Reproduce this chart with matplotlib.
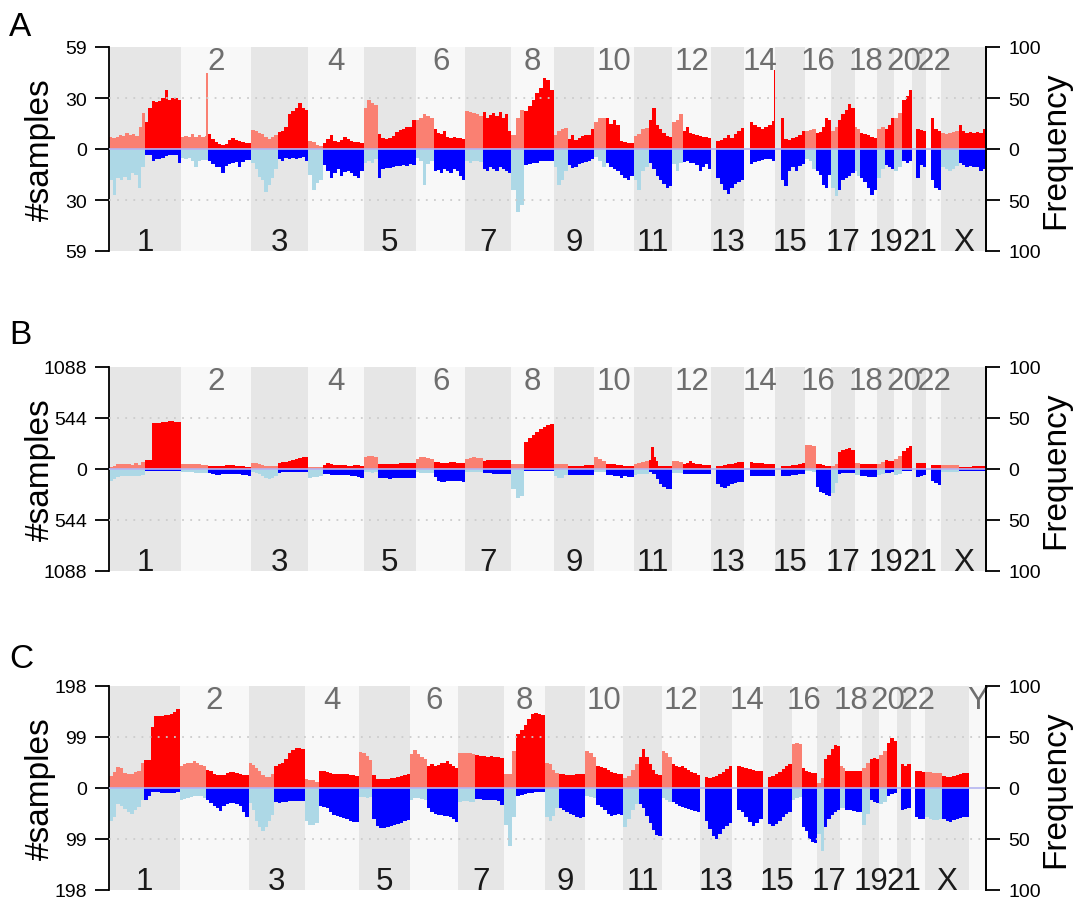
import numpy as np
import matplotlib
matplotlib.use("Agg")
import matplotlib.pyplot as plt

plt.rcParams['font.family'] = ['Liberation Sans', 'DejaVu Sans']

# ---------------- genome layout (Mb) ----------------
chrom_names = ['1', '2', '3', '4', '5', '6', '7', '8', '9', '10', '11', '12',
               '13', '14', '15', '16', '17', '18', '19', '20', '21', '22', 'X', 'Y']
chrom_len = [249.25, 243.20, 198.02, 191.15, 180.92, 171.12, 159.14, 146.36,
             141.21, 135.53, 135.01, 133.85, 115.17, 107.35, 102.53, 90.35,
             81.20, 78.08, 59.13, 63.03, 48.13, 51.30, 155.27, 59.37]
centromere = [125.0, 93.3, 91.0, 50.4, 48.4, 61.0, 59.9, 45.6, 49.0, 40.2,
              53.7, 35.8, 17.9, 17.6, 19.0, 36.6, 24.0, 17.2, 26.5, 27.5,
              13.2, 14.7, 60.6, 12.5]

# ---------------- panel A (59 samples), frequency % ----------------
A_gain_p = [[12, 11, 12, 14, 13, 16, 14, 15, 13, 22, 35], [12, 13, 12, 15, 12, 14, 12, 13],
            [19, 18, 16, 15, 12, 10, 12, 14], [8, 7, 4, 3], [40, 48, 45, 43], [28, 30, 34, 32, 30],
            [37, 36, 35, 34, 32], [14, 30, 38], [14, 18, 20, 21], [26, 30, 30], [13, 15, 20, 21],
            [26, 28, 34], [], [], [], [18, 19, 20], [18, 22], [22, 20], [20, 22], [30, 35], [], [],
            [16, 15, 16, 17, 18]]
A_gain_q = [[26, 40, 47, 46, 47, 50, 58, 48, 50, 50, 48], [15, 10, 7, 5, 4, 5, 9, 11, 9, 8, 7, 6, 6],
            [17, 18, 22, 34, 37, 40, 45, 40, 38], [6, 10, 14, 8, 7, 9, 12, 10, 8, 7, 7, 6],
            [15, 11, 10, 11, 13, 17, 19, 20, 22, 22, 28], [20, 16, 15, 18, 12, 11, 12, 11, 11, 10],
            [36, 30, 33, 35, 32, 36, 30, 34, 18], [37, 42, 48, 55, 60, 70, 68, 58],
            [10, 14, 9, 11, 13, 14, 14, 20], [30, 25, 28, 24, 8, 7, 6, 6], [28, 40, 24, 20, 16, 13, 12],
            [18, 22, 16, 15, 14, 13, 12, 12, 11], [8, 9, 11, 14, 11, 15, 18, 21],
            [26, 24, 22, 20, 22, 24, 27], [30, 10, 9, 11, 12, 14, 18], [16, 17, 22, 30, 28],
            [28, 34, 38, 44, 40], [16, 15, 14, 12, 11], [20, 24, 30], [48, 52, 58], [20, 19, 18],
            [30, 20, 18], [24, 18, 16, 17, 16, 17, 16, 20]]
A_loss_p = [[30, 45, 28, 30, 27, 30, 24, 25, 38, 18], [9, 10, 9, 12, 18, 12, 11, 11],
            [14, 20, 27, 30, 42, 35, 28, 20], [25, 40, 33, 30], [14, 12, 14, 10], [9, 12, 35, 15, 12],
            [12, 14, 12, 12, 13], [40, 62, 55], [18, 35, 30, 22], [8, 12, 18], [30, 40, 22, 18],
            [15, 22, 14], [], [], [], [10, 12, 20], [38, 46], [22, 26], [28, 20], [22, 18], [], [],
            [18, 20, 22, 20, 17]]
A_loss_q = [[6, 6, 12, 10, 10, 9, 7, 6, 6, 6, 14], [12, 15, 18, 18, 24, 17, 15, 14, 13, 18, 13, 11, 11],
            [10, 12, 9, 10, 9, 10, 9, 8, 12], [16, 22, 28, 24, 20, 26, 23, 22, 24, 26, 28, 22],
            [28, 20, 19, 19, 18, 17, 17, 16, 17, 15, 16], [22, 21, 24, 20, 22, 24, 20, 22, 26, 30],
            [20, 22, 18, 20, 22, 18, 20, 22, 24], [16, 15, 14, 14, 12, 12, 12, 12],
            [16, 19, 18, 15, 14, 13, 12, 10], [14, 18, 20, 22, 25, 28, 30, 26],
            [14, 20, 26, 30, 34, 38, 36], [13, 12, 14, 14, 16, 22, 18, 15, 20],
            [28, 34, 40, 44, 38, 34, 32, 30], [15, 13, 12, 11, 10, 10, 12], [30, 36, 22, 18, 22, 17, 15],
            [22, 25, 35, 38, 25], [40, 30, 28, 26, 24], [28, 32, 38, 45, 40], [16, 18, 20], [12, 14, 12],
            [28, 16, 18], [30, 38, 40], [14, 16, 18, 17, 18, 18, 22, 20]]
# narrow single-locus peaks: (chromosome, position Mb, frequency %, arm)
A_spikes = [('2', 90.0, 75, 'p'), ('14', 104.5, 77, 'q')]

# ---------------- panel B (1088 samples) ----------------
B_gain_p = [[2, 3, 5, 5, 5, 5, 4, 6, 4, 7], [5, 5, 5, 5, 5, 5, 4, 4], [6, 6, 5, 4, 3, 2.5, 2.5, 3],
            [2, 2, 2, 2], [12, 13, 12.5, 12], [10, 12, 12, 11, 10], [10, 11, 12, 11, 11], [5, 5, 5],
            [5, 5, 5, 5], [12, 10, 8], [5, 6, 7, 8], [8, 8, 7], [], [], [], [24, 24, 23], [3, 5],
            [6, 6], [5, 7], [10, 13], [], [], [4, 4, 4, 4, 4]]
B_gain_q = [[9, 9, 45, 45, 45, 46, 46, 47, 47, 46, 46], [3, 2.5, 2.5, 3, 3, 3.5, 3.5, 3.5, 3, 3, 2.5, 2, 2],
            [6, 6.5, 7, 8, 9, 10, 11, 12, 12], [4, 6, 5, 4, 3.5, 3.5, 3.5, 3, 3, 3.5, 3.5, 3],
            [5, 5, 5, 5, 5, 5, 5.5, 5.5, 5.5, 5.5, 6], [7, 7, 6, 6, 6, 7, 6.5, 6, 6, 6],
            [8, 8.5, 8.5, 8.5, 8.5, 8.5, 8.5, 9, 8.5], [26, 30, 33, 36, 39, 41, 43, 44],
            [2.5, 2.5, 3, 3, 3, 3.5, 3.5, 4], [5, 5, 4.5, 4, 3.5, 3, 3, 3],
            [9, 22, 12, 8, 3, 3, 3, 3, 3, 3], [5, 6, 8, 6, 5, 5, 4, 4, 4], [3, 3, 4, 4.5, 5, 6, 7, 7],
            [7, 6, 6, 5.5, 5, 5, 5], [2.5, 3, 3, 3.5, 4, 5, 6], [5, 4.5, 4, 3, 2.5], [17, 19, 20, 21, 19],
            [5, 5, 5, 5, 5], [9, 8, 8], [18, 21, 23], [6, 6, 6], [4, 4, 4], [2, 2, 2, 2, 2.5, 2.5, 3, 3]]
B_loss_p = [[12, 10, 8, 7, 7, 7, 7, 7, 7, 6], [3, 3, 3, 3, 4, 4, 4, 4], [3, 4, 5, 7, 9, 10, 9, 7],
            [9, 8, 8, 7], [3, 3, 4, 3], [3, 4, 4, 4, 4], [3, 3, 3, 3, 3], [20, 28, 26], [7, 9, 9, 6],
            [3, 3, 3], [6, 5, 5, 5], [4, 4, 4], [], [], [], [2, 2, 3], [24, 14], [6, 6], [6, 5], [6, 5],
            [], [], [3, 3, 3, 3, 3]]
B_loss_q = [[1.5, 1.5, 1.5, 1.5, 1.5, 1.5, 1.5, 1.5, 1.5, 2, 2], [4, 5, 6, 6, 5, 5, 5, 5, 5, 5, 6, 6, 7],
            [4, 3, 3, 3, 3, 3, 3, 3, 3], [5, 5, 5.5, 5.5, 5.5, 6, 6, 6, 6.5, 7, 7.5, 9],
            [9, 9, 9, 9.5, 9, 9, 9, 9, 9, 9, 9], [8, 12, 13, 13, 12, 12, 12, 12, 12, 13],
            [3.5, 4, 4, 4.5, 4.5, 4.5, 4.5, 4.5, 4.5], [2, 2, 2, 2, 2, 2, 2, 2],
            [5.5, 5.5, 5.5, 5.5, 5.5, 5.5, 5.5, 5.5], [6, 6, 7, 7, 9, 7, 8, 8], [3, 5, 10, 15, 18, 20, 20],
            [4.5, 4.5, 4.5, 4.5, 4.5, 4.5, 4.5, 4.5, 4.5], [15, 18, 19, 17, 15, 14, 13, 13],
            [7, 7, 7, 7, 7, 7, 7], [7, 7, 6.5, 6, 5.5, 5, 4.5], [18, 23, 24, 25, 26], [5, 4, 4, 4, 4],
            [7, 7, 7.5, 7.5, 8], [4, 4, 3], [2, 2, 2], [8, 7, 6], [12, 14, 16], [2, 2, 2, 2, 2, 2, 2, 2]]
B_spikes = []

# ---------------- panel C (198 samples) ----------------
C_gain_p = [[12, 16, 21, 20, 15, 14, 14, 16, 17, 25], [22, 24, 25, 25, 26, 25, 23, 22],
            [25, 23, 20, 17, 13, 11, 11, 14], [9, 8, 8, 6], [35, 34, 31, 27], [33, 37, 33, 30, 28],
            [34, 34, 34, 34, 33], [14, 14, 36], [25, 24, 18, 15], [36, 34, 30], [10, 12, 18, 24],
            [36, 34, 30], [], [], [], [43, 44, 43], [5, 10], [22, 20], [20, 25], [32, 36], [], [],
            [16, 16, 15, 15, 15], []]
C_gain_q = [[27, 27, 60, 71, 71, 71, 72, 72, 73, 75, 77], [18, 17, 14, 13, 13, 13, 15, 16, 16, 15, 14, 13, 13],
            [22, 24, 25, 28, 34, 37, 39, 39, 38], [17, 17, 16, 15, 14, 14, 14, 14, 14, 13, 13, 12],
            [13, 9, 9, 9, 9, 10, 10, 11, 12, 13, 14], [22, 24, 22, 23, 25, 25, 26, 24, 22, 20],
            [32, 31, 31, 30, 31, 30, 30, 29], [53, 57, 62, 68, 73, 74, 73, 72],
            [14, 14, 13, 13, 13, 14, 14, 14], [22, 21, 20, 18, 16, 15, 14, 14], [30, 38, 30, 24, 18, 14, 13],
            [24, 22, 21, 22, 20, 18, 16, 15, 13], [11, 10, 11, 12, 14, 16, 19, 22],
            [22, 21, 20, 19, 18, 17, 17], [11, 12, 14, 16, 19, 22, 24], [20, 17, 16, 15, 15],
            [28, 32, 38, 42, 41], [17, 17, 17, 17, 17], [28, 29, 28], [44, 49, 46], [24, 22, 24],
            [17, 17, 16], [12, 11, 11, 12, 13, 14, 15, 15], []]
C_loss_p = [[32, 28, 16, 18, 21, 24, 25, 22, 19, 12], [12, 11, 10, 9, 8, 8, 8, 10],
            [15, 22, 32, 38, 42, 38, 32, 26], [32, 36, 36, 34], [9, 9, 10, 9], [12, 10, 10, 11, 12],
            [14, 13, 13, 14, 14], [36, 57, 28], [28, 32, 27, 20], [8, 9, 10], [38, 30, 22, 16],
            [10, 12, 14], [], [], [], [12, 10, 9], [45, 62], [20, 20], [36, 25], [16, 14], [], [],
            [28, 30, 31, 31, 30], []]
C_loss_q = [[12, 8, 4, 4, 4, 4.5, 5, 5, 5, 5, 4], [12, 15, 18, 20, 23, 18, 16, 15, 15, 16, 18, 24, 28],
            [14, 15, 14, 14, 13, 13, 13, 13, 13], [18, 19, 20, 24, 26, 27, 28, 29, 30, 32, 33, 33],
            [30, 37, 39, 39, 38, 37, 36, 35, 34, 32, 31], [20, 24, 25, 26, 26, 27, 27, 28, 30, 33],
            [11, 11, 12, 12, 12, 12, 13, 17], [8, 7, 6, 5, 5, 4, 4, 4],
            [20, 22, 24, 25, 26, 28, 29, 28], [17, 19, 22, 25, 27, 26, 25, 26],
            [16, 20, 27, 34, 41, 46, 47], [14, 16, 18, 19, 20, 21, 22, 23, 24],
            [32, 40, 47, 50, 45, 40, 37, 34], [22, 24, 28, 33, 37, 34, 30], [35, 37, 35, 32, 28, 25, 24],
            [38, 42, 50, 53, 54], [38, 30, 26, 24, 22], [22, 22, 23, 24, 24], [12, 14, 15], [8, 6, 5],
            [22, 21, 20], [28, 30, 30], [30, 32, 33, 31, 30, 29, 28, 28], []]
C_spikes = []

panel_letters = ['A', 'B', 'C']
panel_n_chrom = [23, 23, 24]
left_tick_labels = [['59', '30', '0', '30', '59'],
                    ['1088', '544', '0', '544', '1088'],
                    ['198', '99', '0', '99', '198']]
right_tick_labels = ['100', '50', '0', '50', '100']
tick_pos = [-100, -50, 0, 50, 100]

panels = [(A_gain_p, A_gain_q, A_loss_p, A_loss_q, A_spikes),
          (B_gain_p, B_gain_q, B_loss_p, B_loss_q, B_spikes),
          (C_gain_p, C_gain_q, C_loss_p, C_loss_q, C_spikes)]

COL_GP, COL_GQ, COL_LP, COL_LQ = '#FA8072', '#FF0000', '#ADD8E6', '#0000FF'
BAND_ODD, BAND_EVEN = '#E6E6E6', '#F8F8F8'

W, H = 1080, 903
fig = plt.figure(figsize=(W / 100, H / 100), dpi=100)
ax_l, ax_r = 109, 986
tops = [48, 368, 687]
ht = 204
letter_base = [36, 344, 668]

for k in range(3):
    gp, gq, lp, lq, spikes = panels[k]
    n = panel_n_chrom[k]
    lens = np.array(chrom_len[:n])
    offs = np.concatenate([[0.0], np.cumsum(lens)[:-1]])
    total = lens.sum()
    ax = fig.add_axes([ax_l / W, 1 - (tops[k] + ht) / H, (ax_r - ax_l) / W, ht / H])
    ax.set_xlim(0, total)
    ax.set_ylim(-100, 100)

    for i in range(n):
        ax.axvspan(offs[i], offs[i] + lens[i], color=BAND_ODD if i % 2 == 0 else BAND_EVEN,
                   lw=0, zorder=0)
        cen = centromere[i]
        if i < len(gp):
            for vals, sign, col, a0, a1 in [(gp[i], 1, COL_GP, 0, cen), (gq[i], 1, COL_GQ, cen, lens[i]),
                                            (lp[i], -1, COL_LP, 0, cen), (lq[i], -1, COL_LQ, cen, lens[i])]:
                if len(vals) == 0:
                    continue
                edges = np.linspace(offs[i] + a0, offs[i] + a1, len(vals) + 1)
                ax.stairs(sign * np.array(vals, dtype=float), edges, baseline=0, fill=True,
                          color=col, lw=0, zorder=2)
        # chromosome label
        if i % 2 == 0:
            ax.text(offs[i] + lens[i] / 2, -99, chrom_names[i], ha='center', va='baseline',
                    fontsize=22.5, color='#1A1A1A', zorder=8)
        else:
            ax.text(offs[i] + lens[i] / 2, 101, chrom_names[i], ha='center', va='top',
                    fontsize=22.5, color='#6E6E6E', zorder=8)

    for (c, pos, val, arm) in spikes:
        i = chrom_names.index(c)
        ax.bar(offs[i] + pos, val, width=5.0, bottom=0, color=COL_GP if arm == 'p' else COL_GQ,
               lw=0, zorder=3)

    for g in (50, -50):
        ax.axhline(g, color='#CCCCCC', lw=1.3, ls=(0, (1, 3.5)), zorder=6)
    ax.axhline(0, color='#B4B4F0', lw=1.2, zorder=6)

    for s in ('top', 'bottom'):
        ax.spines[s].set_visible(False)
    for s in ('left', 'right'):
        ax.spines[s].set_linewidth(1.3)
    ax.set_xticks([])
    ax.set_yticks(tick_pos)
    ax.set_yticklabels(left_tick_labels[k])
    ax.tick_params(axis='y', direction='out', length=10, width=1.3, labelsize=14, pad=6)

    ax2 = ax.twinx()
    ax2.set_ylim(-100, 100)
    ax2.set_yticks(tick_pos)
    ax2.set_yticklabels(right_tick_labels)
    ax2.tick_params(axis='y', direction='out', length=10, width=1.3, labelsize=14, pad=6)
    for s in ('top', 'bottom', 'left'):
        ax2.spines[s].set_visible(False)
    ax2.spines['right'].set_linewidth(1.3)

    yc = 1 - (tops[k] + ht / 2) / H
    fig.text(40 / W, yc, '#samples', rotation=90, ha='center', va='center', fontsize=24)
    fig.text(1056 / W, yc, 'Frequency', rotation=90, ha='center', va='center', fontsize=24)
    fig.text(9 / W, 1 - letter_base[k] / H, panel_letters[k], ha='left', va='baseline', fontsize=24)

fig.savefig('out.png', dpi=100)
